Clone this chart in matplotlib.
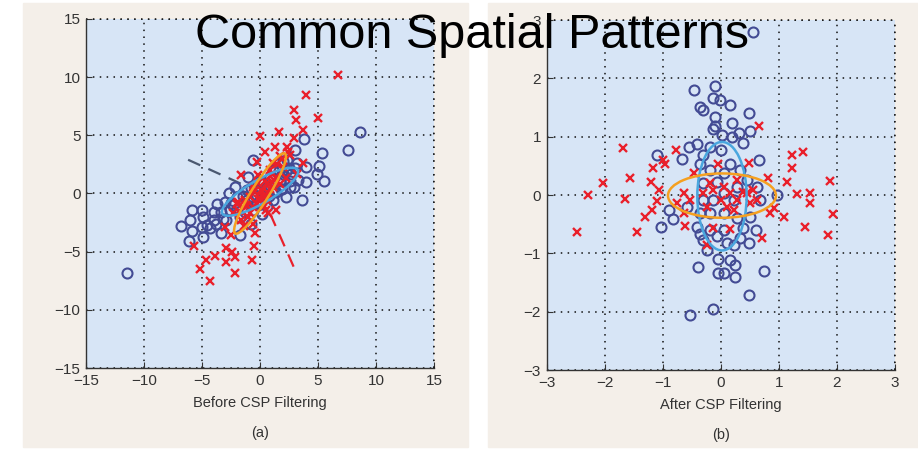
import numpy as np
import matplotlib.pyplot as plt
from matplotlib.patches import Ellipse, Rectangle

plt.rcParams['font.family'] = ['Liberation Sans', 'DejaVu Sans']

# class 1 (circles) / class 2 (crosses), before CSP filtering
before_c1_x = [-11.5, 8.6, 7.6, 5.3, 3.8, 3.0, 5.1, 4.9, 5.5, 4.0, 3.6, 4.0, 3.2, 2.3, 2.7,
               2.9, 2.2, 1.7, -0.6, -1.0, -2.2, -2.7, -3.0, -2.6, -3.4, -4.0, -5.0, -5.9,
               -4.0, -4.9, -6.0, -6.8, -5.9, -5.0, -4.3, -3.4, -4.9, -6.1, -1.7, -1.7,
               -0.6, 0.6, 1.1, -1.1, -2.0, 0.0, 1.1, 2.0, 2.6, 1.4, 0.6, -0.6, -1.1,
               -2.9, -3.7, 0.3, 1.9, -0.3, 2.5, -2.3,
               -2.5, -1.5, -0.8, 0.2, 0.9, 1.6, 2.3, 3.0, -3.2, -2.0, -1.3, -0.3, 0.8,
               1.8, 2.6, 3.3, -0.8, 0.2, 1.2, 2.0, -3.8, -4.6]
before_c1_y = [-6.8, 5.3, 3.7, 3.5, 4.7, 3.7, 2.4, 1.7, 1.1, 1.0, -0.6, 2.3, 2.6, 2.9, 1.7,
               0.6, -0.3, 1.1, 2.9, 1.4, 0.6, 0.0, -0.7, -1.4, -1.6, -1.6, -1.4, -1.4,
               -2.3, -2.0, -2.3, -2.8, -3.2, -2.9, -3.0, -3.4, -3.7, -4.1, -3.6, -2.0,
               -0.3, 0.6, -0.6, 0.3, -0.3, 1.1, 2.0, 1.7, 1.1, 0.1, -1.1, -1.4, -0.6,
               -2.3, -0.9, 0.0, 0.4, -0.2, 2.2, -1.0,
               -0.8, -0.2, 0.5, 0.9, 1.4, 1.9, 2.0, 2.2, -2.2, -1.3, -1.6, -0.8, -0.2,
               0.4, 0.6, 1.2, -2.6, -1.8, 0.2, 2.8, -2.6, -2.7]
before_c2_x = [6.75, 4.0, 2.9, 3.1, 5.0, 3.7, 1.6, 0.0, 2.9, 1.3, 2.3, 0.4, 1.7, -0.3,
               -1.6, 3.7, 3.2, 0.9, -0.6, -0.9, -1.9, 0.0, 0.7, 1.1, 1.4, 0.3, 1.4, -0.9,
               -1.6, -0.6, -3.0, -2.5, -0.4, -5.7, -2.9, -2.4, -0.5, -3.9, -4.7, -2.9,
               -2.2, -0.7, -5.2, -2.2, -4.3, 0.6, -0.3, -1.1, 0.1, 0.4, 2.0, 1.1, 2.4,
               0.7, -2.3, -2.0, -0.2, 0.5, 1.0, -1.3,
               -1.0, -0.6, -0.2, 0.2, 0.6, 1.0, 1.5, 1.9, -1.4, -1.2, -0.5, 0.3, 0.9,
               1.2, -0.2, 2.2, -1.8, 0.5, 1.7, 2.6]
before_c2_y = [10.2, 8.5, 7.2, 6.3, 6.5, 5.5, 5.3, 4.9, 4.8, 4.0, 4.0, 3.6, 3.2, 2.7,
               1.6, 2.6, 1.7, 2.0, 0.6, -0.3, -0.7, -0.4, 0.0, 0.6, 1.4, -1.1, -1.4, -1.7,
               -2.3, -2.6, -2.9, -3.6, -3.4, -4.5, -4.7, -5.0, -4.5, -5.4, -5.7, -5.9,
               -5.5, -5.7, -6.5, -6.8, -7.5, -0.6, -0.9, -1.1, 0.3, 1.1, 2.3, 2.6, 3.6,
               -1.7, -1.7, -0.9, 0.9, -0.2, 1.0, -0.6,
               -2.0, -1.2, -0.5, 0.2, 0.9, 1.7, 2.5, 3.0, -2.8, -1.0, 0.2, -0.3, 0.4,
               1.2, 1.6, 1.3, -1.5, -1.4, 0.8, 3.3]

# class 1 / class 2 after CSP filtering
after_c1_x = [0.55, -0.1, -0.46, -0.14, -0.02, 0.15, -0.36, -0.3, 0.48, -0.1, 0.19, -0.1,
              -0.13, 0.5, 0.32, 0.02, 0.19, 0.39, -0.41, -0.55, -0.18, 0.0, -0.3, -1.1,
              -0.67, 0.65, -0.36, 0.16, 0.33, -0.18, 0.05, -0.3, 0.45, 0.97, 0.68, -0.9,
              -0.83, -0.18, 0.05, 0.28, 0.5, -1.03, -0.41, -0.36, -0.18, 0.05, 0.39, 0.61,
              -0.3, -0.07, 0.1, 0.22, 0.48, 0.33, -0.24, -0.04, 0.16, 0.25, -0.39, 0.74,
              -0.04, 0.06, 0.25, 0.48, -0.13, -0.53, 0.05, 0.22, -0.13, -0.3, 0.28, -0.07,
              0.62, -0.36, -0.59]
after_c1_y = [2.8, 1.87, 1.8, 1.67, 1.63, 1.54, 1.51, 1.46, 1.4, 1.34, 1.24, 1.18, 1.14,
              1.09, 1.06, 1.03, 1.0, 0.9, 0.87, 0.83, 0.83, 0.77, 0.69, 0.69, 0.61, 0.6,
              0.54, 0.54, 0.43, 0.43, 0.37, 0.2, 0.26, 0.0, -0.09, -0.26, -0.41, -0.31,
              -0.31, -0.4, -0.37, -0.54, -0.54, -0.66, -0.6, -0.6, -0.57, -0.6, -0.77,
              -0.71, -0.83, -0.86, -0.82, -0.74, -0.94, -1.09, -1.11, -1.2, -1.23, -1.3,
              -1.34, -1.34, -1.4, -1.71, -1.96, -2.06, 0.03, -0.09, -0.09, -0.09, 0.14,
              0.23, 0.14, -0.31, -0.2]
after_c2_x = [0.66, -1.68, -0.77, 1.41, 1.22, -0.99, -0.96, -1.17, 1.22, -0.04, 0.49,
              -1.57, -1.2, -2.03, 0.82, 1.14, 1.88, -2.28, -1.65, -1.06, 1.31, 1.54, 1.53,
              -1.1, -1.19, -1.3, 1.94, 0.92, 1.08, 0.84, -2.47, -1.45, -0.61, -0.13, 0.16,
              1.45, 0.71, 1.84, -0.24, -0.47, -0.64, -0.76, -0.53, -0.3, -0.13, 0.05,
              0.16, 0.28, 0.45, 0.56, 0.51, 0.62, 0.1, 0.22, -0.24, 0.0, -0.18, 0.28,
              -0.64, 0.38]
after_c2_y = [1.18, 0.8, 0.77, 0.73, 0.69, 0.6, 0.53, 0.46, 0.46, 0.53, 0.55, 0.3, 0.23,
              0.2, 0.29, 0.23, 0.24, 0.0, -0.07, 0.09, 0.01, 0.03, -0.13, -0.11, -0.26,
              -0.37, -0.33, -0.23, -0.38, -0.31, -0.64, -0.64, -0.53, -0.57, -0.59,
              -0.55, -0.74, -0.69, -0.86, 0.38, 0.03, -0.14, -0.09, 0.03, 0.09, 0.14,
              0.03, -0.09, 0.03, 0.09, -0.14, -0.09, -0.2, -0.26, -0.2, -0.09, 0.2, 0.26,
              -0.31, 0.05]

# covariance ellipses: centre x, centre y, full width, full height, angle (deg)
before_ell_c1 = (0.0, 0.15, 7.5, 2.0, 30)
before_ell_c2 = (0.0, 0.0, 8.1, 1.5, 58)
after_ell_c1 = (0.02, -0.02, 0.85, 1.86, 0)
after_ell_c2 = (0.02, -0.01, 1.86, 0.76, 0)

# CSP filter directions (before filtering)
filt1_x, filt1_y = [-6.2, 0.0], [2.9, 0.1]
filt2_x, filt2_y = [0.1, 2.9], [0.0, -6.3]

ticks_before = [-15, -10, -5, 0, 5, 10, 15]
ticks_after = [-3, -2, -1, 0, 1, 2, 3]

c_circ = '#434b94'
c_cross = '#e9202b'
c_ell1 = '#4aa6de'
c_ell2 = '#f5a020'
c_face = '#d7e5f6'
c_panel = '#f4efe9'

fig = plt.figure(figsize=(9.18, 4.49), dpi=100)
fig.patch.set_facecolor('white')

# beige panels behind each subplot
fig.patches.append(Rectangle((23 / 918, 2 / 449), 445 / 918, 444 / 449,
                             transform=fig.transFigure, color=c_panel, zorder=-5))
fig.patches.append(Rectangle((488 / 918, 2 / 449), 430 / 918, 444 / 449,
                             transform=fig.transFigure, color=c_panel, zorder=-5))

ax1 = fig.add_axes([0.0937, 0.1804, 0.3791, 0.7773])
ax2 = fig.add_axes([0.5955, 0.1759, 0.3794, 0.7795])


def style(ax, ticks, xlabel, tag):
    ax.set_facecolor(c_face)
    ax.set_xlim(ticks[0], ticks[-1])
    ax.set_ylim(ticks[0], ticks[-1])
    ax.set_xticks(ticks)
    ax.set_yticks(ticks)
    ax.set_xticklabels([str(t).replace('-', '\u2212') for t in ticks])
    ax.set_yticklabels([str(t).replace('-', '\u2212') for t in ticks])
    ax.tick_params(direction='in', length=4, width=0.8, colors='#333333',
                   labelsize=11, pad=4)
    ax.grid(True, color='#111111', linestyle=(0, (1, 3.5)), linewidth=1.1)
    ax.set_axisbelow(True)
    for s in ['top', 'right']:
        ax.spines[s].set_visible(False)
    for s in ['left', 'bottom']:
        ax.spines[s].set_color('#333333')
        ax.spines[s].set_linewidth(1.0)
    # grid lines on the outer edge
    ax.axhline(ticks[-1], color='#111111', linestyle=(0, (1, 3.5)), lw=1.1, clip_on=False)
    ax.axvline(ticks[-1], color='#111111', linestyle=(0, (1, 3.5)), lw=1.1, clip_on=False)
    ax.set_xlabel(xlabel, fontsize=10.5, color='#333333', labelpad=6)
    ax.text(0.5, -0.185, tag, transform=ax.transAxes, ha='center', va='center',
            fontsize=10.5, color='#333333')


def draw(ax, c1x, c1y, c2x, c2y, ell1, ell2):
    ax.plot(c1x, c1y, 'o', ms=7.2, mfc='none', mec=c_circ, mew=1.5, zorder=3)
    ax.plot(c2x, c2y, 'x', ms=5.5, mec=c_cross, mew=1.7, zorder=4)
    for e, col in [(ell1, c_ell1), (ell2, c_ell2)]:
        ax.add_patch(Ellipse((e[0], e[1]), e[2], e[3], angle=e[4], fill=False,
                             edgecolor=col, lw=1.8, zorder=5))


style(ax1, ticks_before, 'Before CSP Filtering', '(a)')
style(ax2, ticks_after, 'After CSP Filtering', '(b)')

ax1.plot(filt1_x, filt1_y, color='#4a5870', lw=1.6, linestyle=(0, (6, 4)), zorder=2)
ax1.plot(filt2_x, filt2_y, color=c_cross, lw=1.6, linestyle=(0, (6, 4)), zorder=2)
draw(ax1, before_c1_x, before_c1_y, before_c2_x, before_c2_y, before_ell_c1, before_ell_c2)
draw(ax2, after_c1_x, after_c1_y, after_c2_x, after_c2_y, after_ell_c1, after_ell_c2)

fig.text(0.514, 0.892, 'Common Spatial Patterns', ha='center', va='baseline',
         fontsize=35, color='black', zorder=10)

fig.savefig('out.png', dpi=100)
